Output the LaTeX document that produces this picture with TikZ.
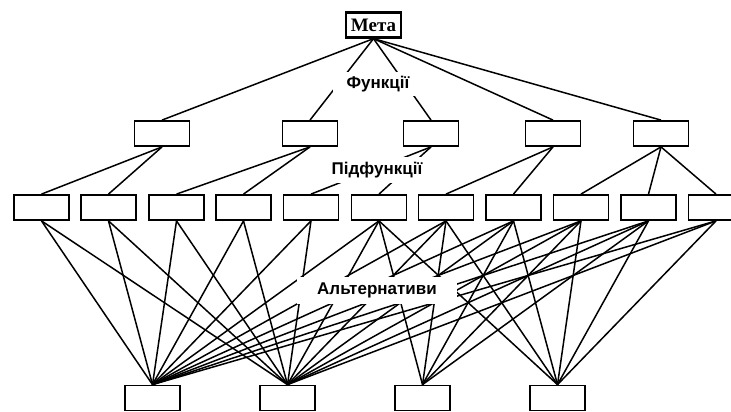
\documentclass[tikz,border=0pt]{standalone}
\usepackage{fontspec}
\setmainfont{Liberation Serif}
\newfontfamily\lblfont{Liberation Sans}
\begin{document}
\begin{tikzpicture}[x=1pt,y=-1pt,
  box/.style={draw,line width=1.8pt,minimum width=55pt,minimum height=25pt,inner sep=0pt},
  link/.style={line width=1.5pt},
  lbl/.style={fill=white,inner sep=0pt,font=\lblfont\bfseries\fontsize{17}{19}\selectfont}]
\useasboundingbox (0,0) rectangle (731,412);
\clip (0,0) rectangle (731,412);
\node[box,line width=2.3pt,font=\bfseries\fontsize{19}{21}\selectfont] (meta) at (373.5,25) {Мета};
\foreach \x [count=\i] in {162,310,431,553,661}
  \node[box] (f\i) at (\x,133.5) {};
\foreach \x [count=\i] in {41.5,108.5,176.5,243.5,311,379,446,513.5,581,648.5,716}
  \node[box] (s\i) at (\x,207.5) {};
\foreach \x [count=\i] in {152.5,287.5,422.5,557.5}
  \node[box] (a\i) at (\x,398) {};
\foreach \i in {1,...,5} \draw[link] (meta.south) -- (f\i.north);
\foreach \p/\c in {1/1,1/2,2/3,2/4,3/5,3/6,4/7,4/8,5/9,5/10,5/11}
  \draw[link] (f\p.south) -- (s\c.north);
\foreach \i in {1,...,11} {
  \draw[link] (s\i.south) -- (a1.north);
  \draw[link] (s\i.south) -- (a2.north);
}
\foreach \i in {6,...,10} \draw[link] (s\i.south) -- (a3.north);
\foreach \i in {6,...,11} \draw[link] (s\i.south) -- (a4.north);
\node[lbl,minimum width=90pt,minimum height=24pt] (lf) at (378,84) {Функції};
\node[lbl,minimum width=124pt,minimum height=26pt] (ls) at (377,170) {Підфункції};
\node[lbl,minimum width=160pt,minimum height=27pt] (la) at (377,290.5) {Альтернативи};
\end{tikzpicture}
\end{document}
